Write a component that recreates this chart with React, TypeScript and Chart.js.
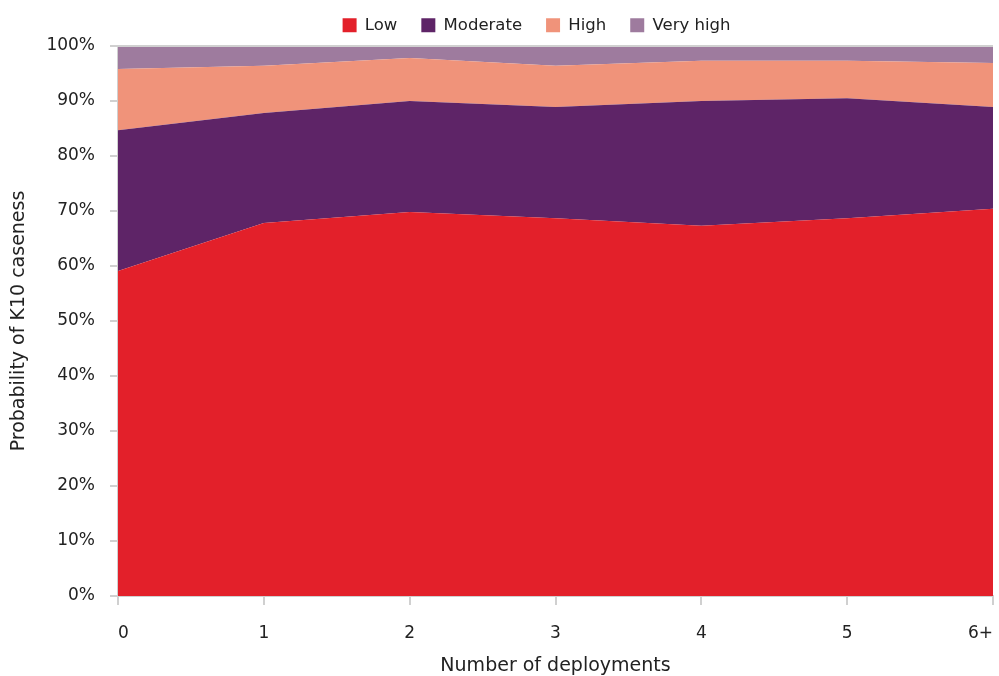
import React, { useEffect, useRef } from "react";
import { Chart, registerables } from "chart.js";

Chart.register(...registerables);

const categories = ["0", "1", "2", "3", "4", "5", "6+"];
const low = [59.1, 67.8, 69.8, 68.7, 67.3, 68.7, 70.4];
const moderate = [25.6, 20.0, 20.2, 20.2, 22.7, 21.8, 18.5];
const high = [11.1, 8.6, 7.8, 7.5, 7.3, 6.8, 8.0];
const veryHigh = [4.2, 3.6, 2.2, 3.6, 2.7, 2.7, 3.1];
const yTicks = [0, 10, 20, 30, 40, 50, 60, 70, 80, 90, 100];

const FONT = "'DejaVu Sans', sans-serif";
const AXIS = "#d0d0d0";

const topLine = {
  id: "topLine",
  afterDatasetsDraw(chart: any) {
    const { ctx, chartArea } = chart;
    ctx.save();
    ctx.strokeStyle = AXIS;
    ctx.lineWidth = 2;
    ctx.beginPath();
    ctx.moveTo(chartArea.left, chartArea.top);
    ctx.lineTo(chartArea.right, chartArea.top);
    ctx.stroke();
    ctx.restore();
  },
};

const legendHeight = {
  id: "legendHeight",
  beforeUpdate(chart: any) {
    const lg = chart.legend;
    if (lg && !lg._patched) {
      const fit = lg.fit;
      lg.fit = function () {
        fit.call(this);
        this.height = 53;
      };
      lg._patched = true;
    }
  },
  afterLayout(chart: any) {
    const lg = chart.legend;
    if (lg) {
      lg.left += 40;
      lg.right += 40;
    }
  },
};

export default function App() {
  const ref = useRef<HTMLCanvasElement>(null);
  useEffect(() => {
    document.body.style.margin = "0";
    const mk = (label: string, data: number[], color: string, fill: any) => ({
      label,
      data,
      backgroundColor: color,
      borderColor: color,
      borderWidth: 0,
      pointRadius: 0,
      fill,
      tension: 0,
    });
    const chart = new Chart(ref.current!, {
      type: "line",
      data: {
        labels: categories,
        datasets: [
          mk("Low", low, "#e3202a", "origin"),
          mk("Moderate", moderate, "#5e2467", "-1"),
          mk("High", high, "#f0937a", "-1"),
          mk("Very high", veryHigh, "#9e7b9e", "-1"),
        ],
      },
      options: {
        animation: false,
        responsive: false,
        maintainAspectRatio: false,
        layout: { padding: { left: 0, right: 6, top: -7, bottom: 0 } },
        plugins: {
          legend: {
            position: "top",
            labels: {
              boxWidth: 14,
              boxHeight: 14,
              padding: 24,
              color: "#222",
              font: { family: FONT, size: 16.5 },
            },
          },
          tooltip: { enabled: false },
        },
        scales: {
          x: {
            offset: false,
            afterFit: (axis: any) => {
              axis.height = 80;
              axis.paddingRight = 0;
            },
            grid: {
              drawOnChartArea: false,
              drawTicks: true,
              tickLength: 9,
              color: AXIS,
              lineWidth: 2,
            },
            border: { color: AXIS, width: 2 },
            ticks: {
              color: "#222",
              font: { family: FONT, size: 17 },
              padding: 18,
              align: "inner",
            },
            title: {
              display: true,
              text: "Number of deployments",
              color: "#222",
              font: { family: FONT, size: 19, lineHeight: 1 },
              padding: { top: 0, bottom: 0 },
            },
          },
          y: {
            stacked: true,
            min: 0,
            max: 100,
            afterBuildTicks: (axis: any) => {
              axis.ticks = yTicks.map((v) => ({ value: v }));
            },
            afterFit: (axis: any) => {
              axis.width = 118;
            },
            grid: {
              drawOnChartArea: false,
              drawTicks: true,
              tickLength: 8,
              color: AXIS,
              lineWidth: 2,
            },
            border: { color: AXIS, width: 2 },
            ticks: {
              color: "#222",
              font: { family: FONT, size: 17 },
              padding: 15,
              callback: (v: any) => v + "%",
            },
            title: {
              display: true,
              text: "Probability of K10 caseness",
              color: "#222",
              font: { family: FONT, size: 19 },
              padding: { top: 8, bottom: 0 },
            },
          },
        },
      },
      plugins: [topLine, legendHeight],
    });
    return () => chart.destroy();
  }, []);
  return <canvas ref={ref} width={999} height={676} style={{ display: "block" }} />;
}
